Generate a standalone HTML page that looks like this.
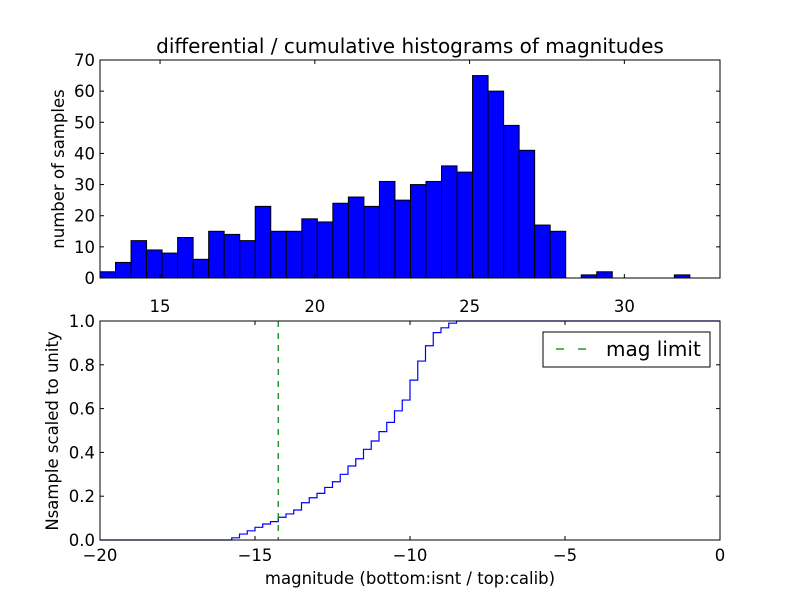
<!DOCTYPE html>
<html><head><meta charset="utf-8"><style>
body{margin:0;background:#fff;font-family:"DejaVu Sans","Liberation Sans",sans-serif}
svg text{font-family:"DejaVu Sans","Liberation Sans",sans-serif;fill:#000}
</style></head><body>
<svg width="800" height="600" viewBox="0 0 800 600">
<rect width="800" height="600" fill="#fff"/>
<g id="top"></g><g id="bot"></g>
</svg>
<script>
const counts=[2,5,12,9,8,13,6,15,14,12,23,15,15,19,18,24,26,23,31,25,30,31,36,34,65,60,49,41,17,15,0,1,2,0,0,0,0,1,0,0];
const binStart=13.06, binWidth=0.5015;
const topXTicks=[15,20,25,30];
const topYTicks=[0,10,20,30,40,50,60,70];
const cumStart=-16.0, cumStep=0.25;
const cumValues=[0,0.01,0.027,0.042,0.058,0.073,0.084,0.104,0.119,0.137,0.17,0.193,0.213,0.24,0.266,0.30,0.338,0.371,0.414,0.452,0.495,0.537,0.59,0.639,0.73,0.817,0.887,0.947,0.969,0.99,1.0];
const magLimit=-14.25;
const botXTicks=[-20,-15,-10,-5,0];
const botYTicks=[0,0.2,0.4,0.6,0.8,1.0];
const NS="http://www.w3.org/2000/svg";
const FS=16.5;
function mk(p,t,a){const e=document.createElementNS(NS,t);for(const k in a)e.setAttribute(k,a[k]);p.appendChild(e);return e;}
const T=document.getElementById('top');
const tx=v=>100+(v-13.06)*(620/20.03), ty=v=>278-v*(218/70);
counts.forEach((c,i)=>{const x0=tx(binStart+i*binWidth),x1=tx(binStart+(i+1)*binWidth);
 if(c>0){const r=mk(T,'rect',{x:x0,y:ty(c),width:x1-x0,height:ty(0)-ty(c),fill:'#0000ff',stroke:'#000','stroke-width':1});
 
 }});
mk(T,'rect',{x:100,y:60,width:620,height:218,fill:'none',stroke:'#000','stroke-width':1});
topXTicks.forEach(v=>{const x=tx(v);mk(T,'line',{x1:x,x2:x,y1:278,y2:274,stroke:'#000'});mk(T,'line',{x1:x,x2:x,y1:60,y2:64,stroke:'#000'});
 const t=mk(T,'text',{x:x,y:312,'text-anchor':'middle','font-size':FS});t.textContent=v;
 
 });
topYTicks.forEach(v=>{const y=ty(v);mk(T,'line',{x1:100,x2:104,y1:y,y2:y,stroke:'#000'});mk(T,'line',{x1:720,x2:716,y1:y,y2:y,stroke:'#000'});
 const t=mk(T,'text',{x:95,y:y+6,'text-anchor':'end','font-size':FS});t.textContent=v;
 
 });
let t=mk(T,'text',{x:410,y:53,'text-anchor':'middle','font-size':20});t.textContent='differential / cumulative histograms of magnitudes';


t=mk(T,'text',{x:64,y:169,'text-anchor':'middle','font-size':FS,transform:'rotate(-90 64 169)'});t.textContent='number of samples';


const B=document.getElementById('bot');
const bx=v=>100+(v+20)*31, by=v=>540-v*219;
let d=`M${bx(-20)},${by(0)} L${bx(cumStart)},${by(0)}`;
cumValues.forEach((v,i)=>{d+=` L${bx(cumStart+i*cumStep)},${by(v)} L${bx(cumStart+(i+1)*cumStep)},${by(v)}`;});
d+=` L${bx(0)},${by(1)}`;
const cp=mk(B,'clipPath',{id:'bc'});mk(cp,'rect',{x:100,y:320,width:620,height:221});
let p=mk(B,'path',{d:d,fill:'none',stroke:'#0000ff','stroke-width':1.2,'clip-path':'url(#bc)'});


p=mk(B,'line',{x1:bx(magLimit),x2:bx(magLimit),y1:321,y2:540,stroke:'#008000','stroke-width':1.2,'stroke-dasharray':'6,6'});


mk(B,'rect',{x:100,y:321,width:620,height:219,fill:'none',stroke:'#000','stroke-width':1});
botXTicks.forEach(v=>{const x=bx(v);mk(B,'line',{x1:x,x2:x,y1:540,y2:536,stroke:'#000'});mk(B,'line',{x1:x,x2:x,y1:321,y2:325,stroke:'#000'});
 const t=mk(B,'text',{x:x,y:561,'text-anchor':'middle','font-size':FS});t.textContent=v<0?'\u2212'+(-v):v;
 
 });
botYTicks.forEach(v=>{const y=by(v);mk(B,'line',{x1:100,x2:104,y1:y,y2:y,stroke:'#000'});mk(B,'line',{x1:720,x2:716,y1:y,y2:y,stroke:'#000'});
 const t=mk(B,'text',{x:95,y:y+6,'text-anchor':'end','font-size':FS});t.textContent=v.toFixed(1);
 
 });
t=mk(B,'text',{x:410,y:584,'text-anchor':'middle','font-size':FS});t.textContent='magnitude (bottom:isnt / top:calib)';


t=mk(B,'text',{x:58,y:431,'text-anchor':'middle','font-size':FS,transform:'rotate(-90 58 431)'});t.textContent='Nsample scaled to unity';


const lg=mk(B,'g',{});


mk(lg,'rect',{x:543,y:332,width:167,height:35,fill:'#fff',stroke:'#000'});
mk(lg,'line',{x1:556,x2:596,y1:349,y2:349,stroke:'#008000','stroke-width':1.2,'stroke-dasharray':'8,14'});
t=mk(lg,'text',{x:606,y:356,'font-size':20});t.textContent='mag limit';
</script>
</body></html>
